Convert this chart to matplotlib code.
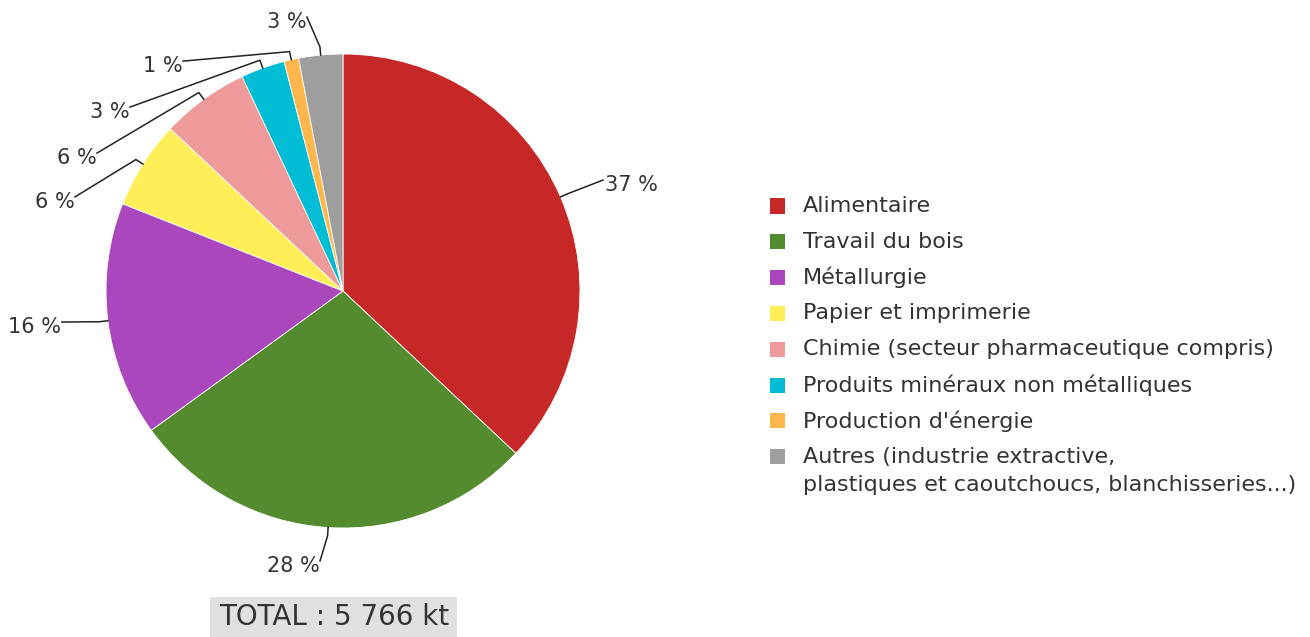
import numpy as np
import matplotlib
matplotlib.use('Agg')
import matplotlib.pyplot as plt
from matplotlib.patches import Rectangle

# ---------------------------------------------------------------------------
# Data
# ---------------------------------------------------------------------------
SECTORS = ['Alimentaire', 'Travail du bois', 'Métallurgie', 'Papier et imprimerie',
           'Chimie (secteur pharmaceutique compris)', 'Produits minéraux non métalliques',
           "Production d'énergie",
           'Autres (industrie extractive,\nplastiques et caoutchoucs, blanchisseries...)']
SHARES = [37, 28, 16, 6, 6, 3, 1, 3]
COLORS = ['#c62828', '#558b2f', '#ab47bc', '#ffee58', '#ef9a9a', '#00bcd4', '#ffb74d', '#9e9e9e']
TOTAL_TXT = 'TOTAL : 5 766 kt'

# label end points in pie units (radius = 1), plus alignment
LABEL_POS = [(1.097, 0.468, 'left'), (-0.097, -1.139, 'right'), (-1.186, -0.131, 'right'),
             (-1.131, 0.397, 'right'), (-1.038, 0.582, 'right'), (-0.899, 0.776, 'right'),
             (-0.675, 0.970, 'right'), (-0.152, 1.156, 'right')]

FG = '#333333'
W, H = 1310, 637
CX, CY, R = 343, 291, 237   # pie centre / radius in pixels

fig = plt.figure(figsize=(W / 100, H / 100), dpi=100)
ax = fig.add_axes([0, 0, 2 * CX / W, 1])

wedges, _ = ax.pie(SHARES, colors=COLORS, startangle=90, counterclock=False,
                   radius=1.0, center=(0, 0), frame=True,
                   wedgeprops=dict(edgecolor='white', linewidth=0.6))
ax.set_aspect('auto')
ax.set_xlim(-CX / R, CX / R)
ax.set_ylim(-(H - CY) / R, CY / R)
ax.axis('off')

# leader lines + percentage labels
for w, share, (lx, ly, ha) in zip(wedges, SHARES, LABEL_POS):
    ang = np.deg2rad((w.theta1 + w.theta2) / 2)
    x0, y0 = np.cos(ang), np.sin(ang)
    x1, y1 = 1.035 * x0, 1.035 * y0
    ax.plot([x0, x1, lx], [y0, y1, ly], color='#222222', lw=1.1,
            solid_joinstyle='round', clip_on=False)
    dx = 0.008 if ha == 'left' else -0.002
    ax.text(lx + dx, ly - 0.02, f'{share} %', ha=ha, va='center',
            fontsize=15, color=FG, clip_on=False)

# total box
fig.patches.append(Rectangle((210 / W, 0), 247 / W, 40 / H, transform=fig.transFigure,
                             facecolor='#e0e0e0', edgecolor='none'))
fig.text(334 / W, 1 - 617 / H, TOTAL_TXT, ha='center', va='center', fontsize=20,
         color=FG)

# legend, drawn by hand so the last square sits on the first text line
row_y = 206
for c, lab in zip(COLORS, SECTORS):
    yc = 1 - row_y / H
    fig.patches.append(Rectangle((770 / W, yc - 7.5 / H), 15 / W, 15 / H,
                                 transform=fig.transFigure, facecolor=c, edgecolor='none'))
    for k, line in enumerate(lab.split('\n')):
        fig.text(803 / W, 1 - (row_y + 28 * k) / H, line, ha='left', va='center',
                 fontsize=16, color=FG)
    row_y += 35.8

fig.savefig('out.png', dpi=100, facecolor='white')
